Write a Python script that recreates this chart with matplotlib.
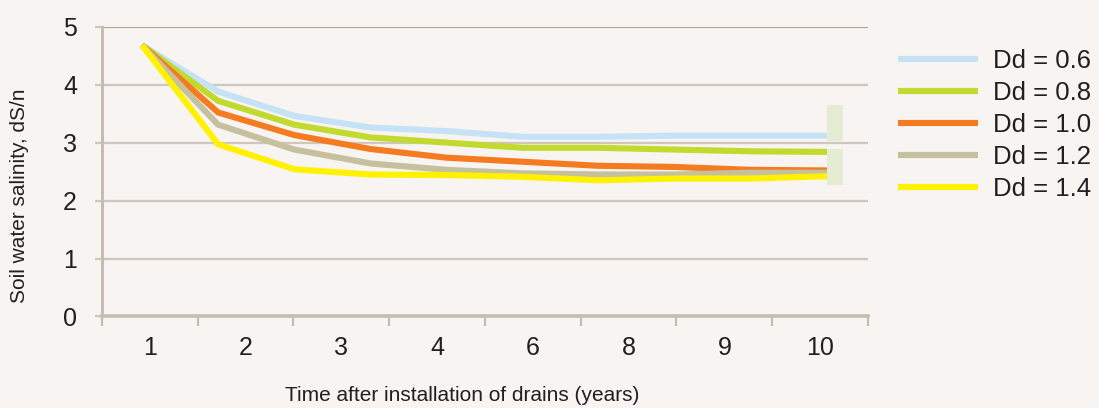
import matplotlib
matplotlib.use('Agg')
import numpy as np
import matplotlib.pyplot as plt
import matplotlib.patches as patches

plt.rcParams['font.family'] = ['Liberation Sans', 'DejaVu Sans']

# data (years 1..10, salinity dS/m)
years = [1, 2, 3, 4, 5, 6, 7, 8, 9, 10]
dd06 = [4.68, 3.88, 3.46, 3.26, 3.20, 3.10, 3.10, 3.12, 3.12, 3.12]
dd08 = [4.68, 3.72, 3.31, 3.09, 3.00, 2.91, 2.91, 2.88, 2.85, 2.84]
dd10 = [4.68, 3.52, 3.13, 2.89, 2.74, 2.67, 2.60, 2.58, 2.53, 2.52]
dd12 = [4.68, 3.31, 2.88, 2.64, 2.53, 2.47, 2.45, 2.45, 2.48, 2.48]
dd14 = [4.68, 2.97, 2.54, 2.45, 2.44, 2.41, 2.35, 2.38, 2.38, 2.42]
series = [dd06, dd08, dd10, dd12, dd14]
labels = ['Dd = 0.6', 'Dd = 0.8', 'Dd = 1.0', 'Dd = 1.2', 'Dd = 1.4']
colors = ['#c5e2f6', '#c2d92e', '#f47b20', '#c5c09e', '#fff200']
cat_labels = ['1', '2', '3', '4', '6', '8', '9', '10']

bg = '#f7f4f1'
grid_c = '#cfc7bd'
axis_c = '#c6bdb1'
txt = '#231f20'

fig = plt.figure(figsize=(10.99, 4.08), dpi=100, facecolor=bg)
ax = fig.add_axes([0.0928, 0.2243, 0.697, 0.7103], facecolor=bg)

for vals, lab, col in zip(series, labels, colors):
    ax.plot(years, vals, color=col, lw=4.4, label=lab, zorder=3,
            solid_joinstyle='miter', solid_capstyle='butt')

# the two pale boxes next to the line ends
ax.add_patch(patches.Rectangle((10.0, 3.02), 0.21, 0.63, facecolor='#e6ecd3',
                               edgecolor='none', zorder=2))
ax.add_patch(patches.Rectangle((10.0, 2.26), 0.21, 0.63, facecolor='#e6ecd3',
                               edgecolor='none', zorder=2))

x0, x1 = 0.474, 10.539
ax.set_xlim(x0, x1)
ax.set_ylim(0, 5)

bounds = np.linspace(x0, x1, len(cat_labels) + 1)
centers = (bounds[:-1] + bounds[1:]) / 2
ax.set_xticks(centers)
ax.set_xticklabels(cat_labels)
ax.set_xticks(bounds, minor=True)
ax.tick_params(axis='x', which='major', length=0, pad=14, labelsize=18,
               labelcolor=txt)
ax.tick_params(axis='x', which='minor', length=7, width=1.6, color=axis_c)

ax.set_yticks([0, 1, 2, 3, 4, 5])
ax.tick_params(axis='y', length=5, width=1.6, color=grid_c, pad=13,
               labelsize=18, labelcolor=txt)

for y in [1, 2, 3, 4]:
    ax.axhline(y, color=grid_c, lw=1.6, zorder=1)
ax.axhline(5, color='#b2a696', lw=1.6, zorder=1)

for s in ['top', 'right']:
    ax.spines[s].set_visible(False)
ax.spines['left'].set_color(axis_c)
ax.spines['left'].set_linewidth(2.2)
ax.spines['bottom'].set_color(axis_c)
ax.spines['bottom'].set_linewidth(2.6)

ax.set_ylabel('Soil water salinity, dS/n', fontsize=15, color=txt)
ax.yaxis.set_label_coords(-0.0953, 0.416)
ax.set_xlabel('Time after installation of drains (years)', fontsize=15,
              color=txt)
ax.xaxis.set_label_coords(0.4706, -0.239)

fig.legend(loc='upper left', bbox_to_anchor=(898 / 1099, 1 - 49 / 408),
           frameon=False, fontsize=18.5, handlelength=3.11,
           handletextpad=0.58, labelspacing=0.31, borderpad=0,
           borderaxespad=0, labelcolor=txt)

fig.savefig('out.png', dpi=100, facecolor=bg)
